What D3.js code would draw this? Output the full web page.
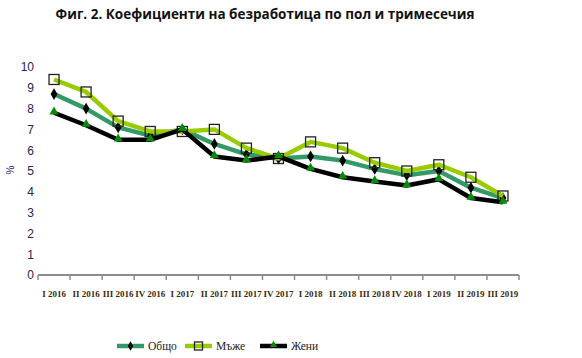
<!DOCTYPE html>
<html><head><meta charset="utf-8">
<script src="https://cdn.jsdelivr.net/npm/d3@7"></script>
<style>body{margin:0;background:#fff}svg{display:block}</style>
</head><body>
<svg id="c" width="582" height="358"></svg>
<script>
const categories = ["I 2016","II 2016","III 2016","IV 2016","I 2017","II 2017","III 2017","IV 2017","I 2018","II 2018","III 2018","IV 2018","I 2019","II 2019","III 2019"];
const total = [8.7, 8.0, 7.1, 6.7, 7.0, 6.3, 5.8, 5.6, 5.7, 5.5, 5.1, 4.8, 5.0, 4.2, 3.7];
const men   = [9.4, 8.8, 7.4, 6.9, 6.9, 7.0, 6.1, 5.6, 6.4, 6.1, 5.4, 5.0, 5.3, 4.7, 3.8];
const women = [7.8, 7.2, 6.5, 6.5, 7.0, 5.7, 5.5, 5.7, 5.1, 4.7, 4.5, 4.3, 4.6, 3.7, 3.5];
const yTicks = [0,1,2,3,4,5,6,7,8,9,10];
const seriesNames = ["Общо","Мъже","Жени"];
const title = "Фиг. 2. Коефициенти на безработица по пол и тримесечия";

const svg = d3.select("#c");
const x = d3.scaleBand().domain(categories).range([38, 519]);
const y = d3.scaleLinear().domain([0, 10]).range([275, 67]);

svg.append("text").attr("x", 265).attr("y", 19).attr("text-anchor", "middle")
  .attr("font-family", "Open Sans, sans-serif").attr("font-weight", "bold").attr("font-size", 13.5)
  .attr("fill", "#111").text(title);

// y axis labels
const ya = svg.append("g").attr("transform", "translate(38,0)")
  .call(d3.axisLeft(y).tickValues(yTicks).tickSize(0).tickPadding(4));
ya.select(".domain").remove();
ya.selectAll("text").attr("font-family", "Liberation Sans, Arial, sans-serif").attr("font-size", 12).attr("fill", "#2a2450");

// x axis
const xa = svg.append("g").attr("transform", "translate(0,275)");
xa.call(d3.axisBottom(x).tickSize(0).tickPadding(0));
xa.select(".domain").attr("stroke", "#8c8c8c").attr("stroke-width", 2).attr("d", "M38,0H519");
xa.selectAll(".tick text").attr("y", 22).attr("dy", 0)
  .attr("font-family", "Liberation Serif, Times New Roman, serif").attr("font-weight", "bold")
  .attr("font-size", 9).attr("fill", "#3a2a10");
const bounds = categories.map(c => x(c)).concat([x(categories[categories.length-1]) + x.bandwidth()]);
xa.selectAll("line.tk").data(bounds).enter().append("line").attr("class","tk")
  .attr("x1", d => d).attr("x2", d => d).attr("y1", 0).attr("y2", 5)
  .attr("stroke", "#8c8c8c").attr("stroke-width", 1.5);

svg.append("text").attr("transform", "translate(14,170) rotate(-90)").attr("text-anchor","middle")
  .attr("font-family","Liberation Sans, Arial, sans-serif").attr("font-size", 10).attr("fill","#2a2450").text("%");

const cx = d => x(d) + x.bandwidth()/2;
const line = d3.line().x(d => cx(d.c)).y(d => y(d.v));
const series = [
  {name: seriesNames[0], vals: total, color: "#339966", marker: "diamond"},
  {name: seriesNames[1], vals: men, color: "#99cc00", marker: "square"},
  {name: seriesNames[2], vals: women, color: "#000000", marker: "triangle"}
];
function drawMarker(g, type, px, py, k) {
  k = k || 1;
  if (type === "diamond") {
    g.append("path").attr("d", d3.symbol(d3.symbolDiamond, 40*k*k)()).attr("transform", `translate(${px},${py})`).attr("fill", "#000");
  } else if (type === "square") {
    const h = 5*k;
    g.append("rect").attr("x", px-h).attr("y", py-h).attr("width", 2*h).attr("height", 2*h)
      .attr("fill", "none").attr("stroke", "#222").attr("stroke-width", 1.3);
  } else {
    g.append("path").attr("d", d3.symbol(d3.symbolTriangle, 36*k*k)()).attr("transform", `translate(${px},${py-1})`).attr("fill", "#0a8a0a");
  }
}
series.forEach(s => {
  const data = categories.map((c,i) => ({c, v: s.vals[i]}));
  const g = svg.append("g");
  g.append("path").datum(data).attr("d", line).attr("fill","none")
    .attr("stroke", s.color).attr("stroke-width", 4.5).attr("stroke-linejoin","round");
  data.forEach(d => drawMarker(g, s.marker, cx(d.c), y(d.v)));
});

// legend
const legX = [117, 185, 260];
series.forEach((s, i) => {
  const g = svg.append("g");
  const x0 = legX[i], yy = 346;
  g.append("line").attr("x1", x0).attr("x2", x0+27).attr("y1", yy).attr("y2", yy)
    .attr("stroke", s.color).attr("stroke-width", 4.5);
  drawMarker(g, s.marker, x0+13.5, yy, 0.8);
  g.append("text").attr("x", x0+31).attr("y", yy+4).attr("font-family","Liberation Serif, Times New Roman, serif")
    .attr("font-size", 11.5).attr("fill","#222").text(s.name);
});
</script>
</body></html>
